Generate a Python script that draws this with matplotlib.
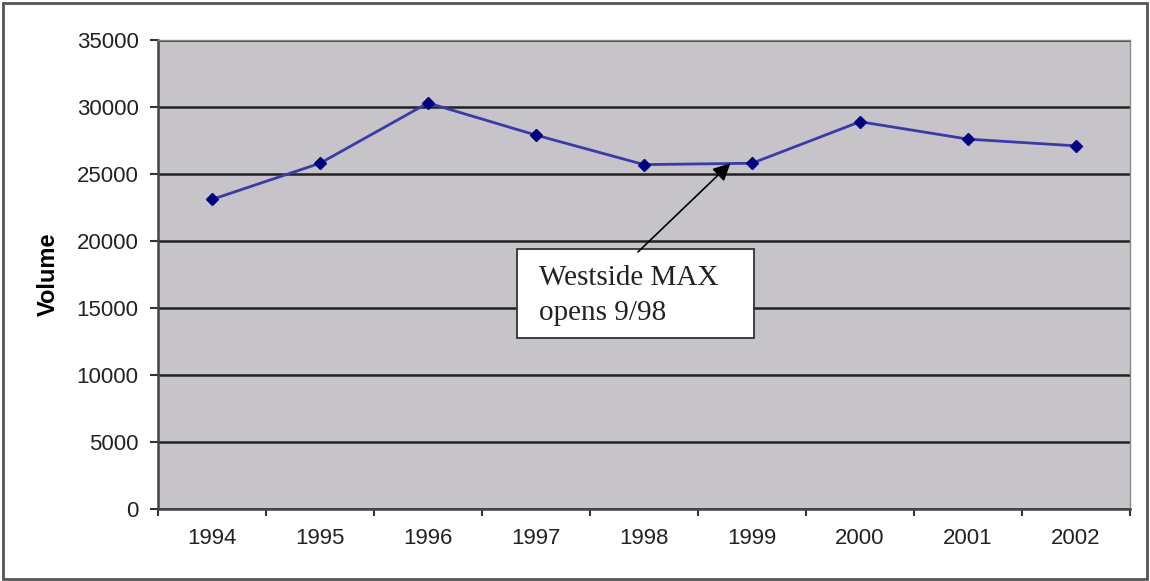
import matplotlib.pyplot as plt
from matplotlib.patches import Rectangle

# data
years = ['1994', '1995', '1996', '1997', '1998', '1999', '2000', '2001', '2002']
volume = [23100, 25800, 30300, 27900, 25700, 25800, 28900, 27600, 27100]
y_ticks = [0, 5000, 10000, 15000, 20000, 25000, 30000, 35000]

plt.rcParams['font.family'] = ['Liberation Sans', 'DejaVu Sans']

fig = plt.figure(figsize=(11.5, 5.81), dpi=100)
ax = fig.add_axes([0.1374, 0.1239, 0.8452, 0.8073])

ax.set_facecolor('#c6c4c8')
x = list(range(len(years)))
ax.plot(x, volume, color='#3a3aa8', linewidth=2, marker='D', markersize=6,
        markerfacecolor='#000080', markeredgecolor='#000080', zorder=3)

ax.set_xlim(-0.5, len(years) - 0.5)
ax.set_ylim(0, 35000)
ax.set_yticks(y_ticks)
ax.set_yticklabels([str(v) for v in y_ticks], fontsize=16, color='#222222')
ax.set_xticks(x)
ax.set_xticklabels(years, fontsize=16, color='#222222')
ax.set_xticks([i - 0.5 for i in range(len(years) + 1)], minor=True)
ax.tick_params(axis='x', which='major', length=0, pad=14)
ax.tick_params(axis='x', which='minor', length=5, width=1.5, color='#333333')
ax.tick_params(axis='y', length=6, width=1.5, color='#333333', pad=8)

ax.grid(axis='y', color='#222222', linewidth=1.8)
ax.set_axisbelow(True)
for side in ['left', 'bottom']:
    ax.spines[side].set_color('#444444')
    ax.spines[side].set_linewidth(1.8)
for side in ['top', 'right']:
    ax.spines[side].set_color('#888888')
    ax.spines[side].set_linewidth(1.0)

ax.set_ylabel('Volume', fontsize=17, fontweight='bold', labelpad=12)

# callout: box, text and arrow
ax.add_patch(Rectangle((2.824, 12760), 2.195, 6640, facecolor='white',
                       edgecolor='#333333', linewidth=1.3, zorder=4))
ax.text(3.03, 15900, 'Westside MAX\nopens 9/98', fontsize=21, family='Liberation Serif',
        color='#222222', ha='left', va='center', linespacing=1.45, zorder=5)
ax.annotate('', xy=(4.8, 25800), xytext=(3.944, 19180),
            arrowprops=dict(arrowstyle='-|>', color='black', linewidth=1.2,
                            mutation_scale=26, shrinkA=0, shrinkB=0),
            zorder=4)

# outer chart frame
fig.patches.append(Rectangle((0.003, 0.004), 0.994, 0.991, transform=fig.transFigure,
                             fill=False, edgecolor='#555555', linewidth=2))

fig.savefig('out.png', dpi=100)
